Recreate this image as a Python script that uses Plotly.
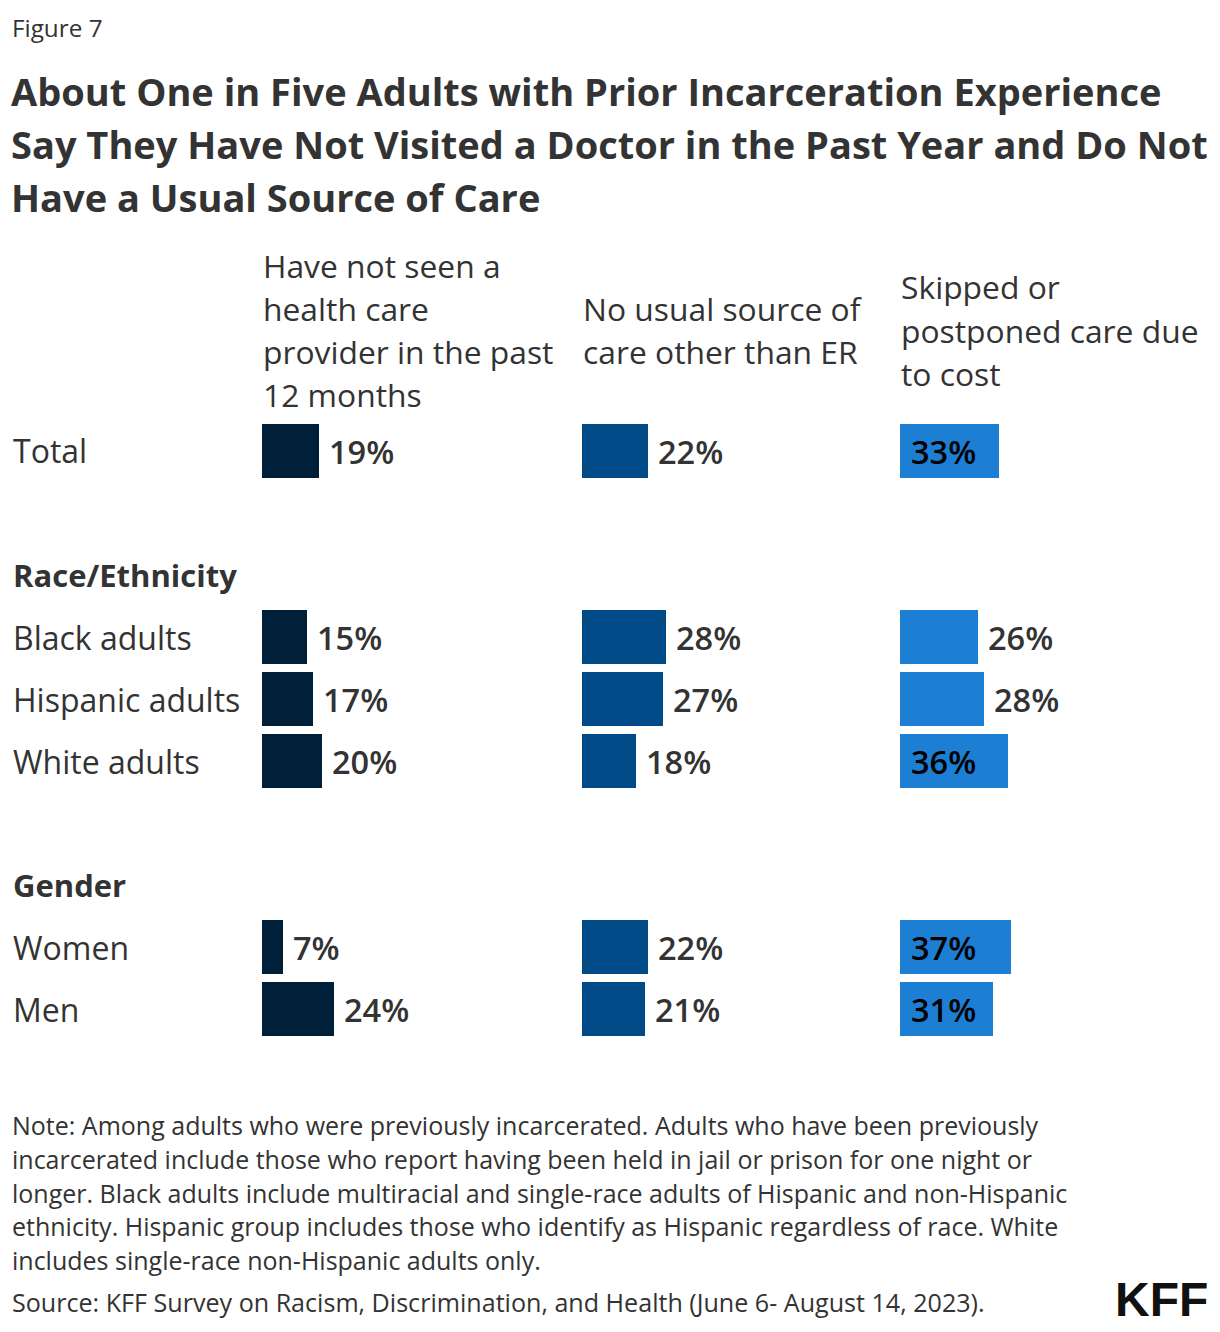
import plotly.graph_objects as go

# ---------------- data ----------------
figure_label = "Figure 7"
title_lines = [
    "About One in Five Adults with Prior Incarceration Experience",
    "Say They Have Not Visited a Doctor in the Past Year and Do Not",
    "Have a Usual Source of Care",
]
column_headers = [
    ["Have not seen a", "health care", "provider in the past", "12 months"],
    ["No usual source of", "care other than ER"],
    ["Skipped or", "postponed care due", "to cost"],
]
groups = [
    (None, ["Total"]),
    ("Race/Ethnicity", ["Black adults", "Hispanic adults", "White adults"]),
    ("Gender", ["Women", "Men"]),
]
not_seen_provider = [19, 15, 17, 20, 7, 24]
no_usual_source = [22, 28, 27, 18, 22, 21]
skipped_care = [33, 26, 28, 36, 37, 31]
series = [not_seen_provider, no_usual_source, skipped_care]
note_lines = [
    "Note: Among adults who were previously incarcerated. Adults who have been previously",
    "incarcerated include those who report having been held in jail or prison for one night or",
    "longer. Black adults include multiracial and single-race adults of Hispanic and non-Hispanic",
    "ethnicity. Hispanic group includes those who identify as Hispanic regardless of race. White",
    "includes single-race non-Hispanic adults only.",
]
source_text = "Source: KFF Survey on Racism, Discrimination, and Health (June 6- August 14, 2023)."
logo_text = "KFF"

# ---------------- layout helpers ----------------
W, H = 1220, 1332
OFF = 8  # page offset of the plot div
FONT = "Open Sans"
TXT = "#333333"
colors = ["#00203A", "#004B87", "#1C7FD4"]


def px(x):
    return (x - OFF) / W


def py(y):
    return 1 - (y - OFF) / H


bar_rows, bar_labels, header_rows = [], [], []
r = 0
for gi, (hdr, items) in enumerate(groups):
    if gi > 0:
        r += 1
    if hdr is not None:
        header_rows.append((r, hdr))
        r += 1
    for it in items:
        bar_rows.append(r)
        bar_labels.append(it)
        r += 1
n_rows = r

row_top_px, row_step = 420, 62
y_bottom_px = row_top_px + row_step * n_rows

col_left = [262, 582, 900]
col_width = 300

fig = go.Figure()
for ci, vals in enumerate(series):
    fig.add_trace(
        go.Bar(
            x=vals,
            y=bar_rows,
            orientation="h",
            marker=dict(color=colors[ci], line=dict(width=0)),
            width=0.87,
            hoverinfo="skip",
            showlegend=False,
            xaxis="x" if ci == 0 else f"x{ci + 1}",
            yaxis="y",
        )
    )

annotations = []
for ci, vals in enumerate(series):
    xref = "x" if ci == 0 else f"x{ci + 1}"
    for v, rr in zip(vals, bar_rows):
        inside = v >= 30
        annotations.append(
            dict(
                x=0 if inside else v,
                y=rr,
                xref=xref,
                yref="y",
                text=f"{v}%",
                xanchor="left",
                yanchor="middle",
                xshift=9 if inside else 8,
                showarrow=False,
                font=dict(family=FONT, size=32.5, color="#000000" if inside else TXT, weight=600),
            )
        )

for rr, lab in zip(bar_rows, bar_labels):
    annotations.append(
        dict(x=px(11), y=py(row_top_px + row_step * (rr + 0.5)), xref="paper", yref="paper",
             text=lab, xanchor="left", yanchor="middle", showarrow=False,
             font=dict(family=FONT, size=32, color=TXT))
    )
for rr, hdr in header_rows:
    annotations.append(
        dict(x=px(11), y=py(row_top_px + row_step * (rr + 0.5)), xref="paper", yref="paper",
             text=hdr, xanchor="left", yanchor="middle", showarrow=False,
             font=dict(family=FONT, size=31, color=TXT, weight="bold"))
    )

hdr_center, hdr_step = 330, 43
for ci, lines in enumerate(column_headers):
    n = len(lines)
    for li, line in enumerate(lines):
        yc = hdr_center + (li - (n - 1) / 2) * hdr_step
        annotations.append(
            dict(x=px(col_left[ci] - 1), y=py(yc), xref="paper", yref="paper", text=line,
                 xanchor="left", yanchor="middle", showarrow=False,
                 font=dict(family=FONT, size=31.8, color=TXT))
        )

annotations.append(
    dict(x=px(10), y=py(27), xref="paper", yref="paper", text=figure_label,
         xanchor="left", yanchor="middle", showarrow=False,
         font=dict(family=FONT, size=24.3, color=TXT))
)
for li, line in enumerate(title_lines):
    annotations.append(
        dict(x=px(9), y=py(91 + 53 * li), xref="paper", yref="paper", text=line,
             xanchor="left", yanchor="middle", showarrow=False,
             font=dict(family=FONT, size=38, color=TXT, weight="bold"))
    )

for li, line in enumerate(note_lines):
    annotations.append(
        dict(x=px(10), y=py(1125 + 33.8 * li), xref="paper", yref="paper", text=line,
             xanchor="left", yanchor="middle", showarrow=False,
             font=dict(family=FONT, size=25, color=TXT))
    )
annotations.append(
    dict(x=px(10), y=py(1302), xref="paper", yref="paper", text=source_text,
         xanchor="left", yanchor="middle", showarrow=False,
         font=dict(family=FONT, size=25.1, color=TXT))
)
annotations.append(
    dict(x=px(1210), y=py(1299), xref="paper", yref="paper", text=logo_text,
         xanchor="right", yanchor="middle", showarrow=False,
         font=dict(family="Liberation Sans", size=48, color="#111111", weight="bold"))
)

axis_common = dict(range=[0, 100], showgrid=False, zeroline=False, showticklabels=False,
                   showline=False, ticks="", fixedrange=True, anchor="y")
layout_axes = {}
for ci in range(3):
    key = "xaxis" if ci == 0 else f"xaxis{ci + 1}"
    layout_axes[key] = dict(axis_common, domain=[px(col_left[ci]), px(col_left[ci] + col_width)])

fig.update_layout(
    width=W,
    height=H,
    autosize=False,
    margin=dict(l=0, r=0, t=0, b=0),
    paper_bgcolor="white",
    plot_bgcolor="rgba(0,0,0,0)",
    bargap=0,
    annotations=annotations,
    yaxis=dict(range=[n_rows - 0.5, -0.5], domain=[py(y_bottom_px), py(row_top_px)],
               showgrid=False, zeroline=False, showticklabels=False, showline=False,
               ticks="", fixedrange=True, anchor="x"),
    **layout_axes,
)
fig.write_html("out.html")
